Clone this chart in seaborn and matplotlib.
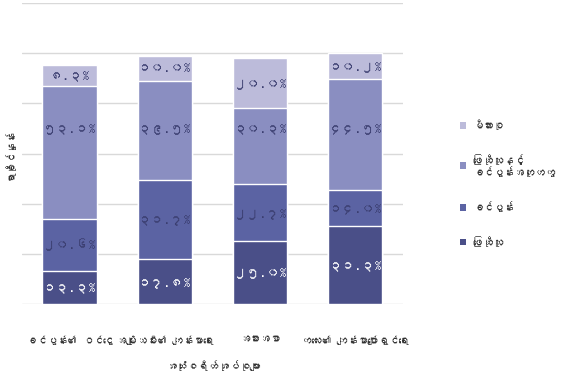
import numpy as np
import matplotlib
matplotlib.use("Agg")
import matplotlib.pyplot as plt
import seaborn as sns
from matplotlib import font_manager
from matplotlib.patches import Patch

# ---- data -------------------------------------------------------------
categories = [
    "ခင်ပွန်း၏ ဝင်ငွေ",
    "အမျိုးသမီး၏ ကျန်းမာရေး",
    "အစားအစာ",
    "ကလေး၏ ကျန်းမာပျော်ရွှင်ရေး",
]
series_names = ["ဖြေဆိုသူ", "ခင်ပွန်း", "ဖြေဆိုသူနှင့်\nခင်ပွန်းအတူတကွ", "မိသားစု"]
respondent = [13.3, 17.8, 25.0, 31.3]
husband = [20.6, 31.7, 22.7, 14.0]
together = [53.1, 39.5, 30.3, 44.5]
family = [8.3, 10.0, 20.0, 10.2]
y_title = "ရာခိုင်နှုန်း"
x_title = "အသုံးစရိတ်အုပ်စုများ"

colors = ["#4a4f88", "#5b63a3", "#8a8ec1", "#bcbbda"]
text_colors = ["#ffffff", "#3b3e70", "#3b3e70", "#3b3e70"]


def myanmar_family():
    """Return the name of an installed font that covers Myanmar script."""
    try:
        from fontTools.ttLib import TTFont
    except Exception:
        return None
    seen = set()
    for f in font_manager.fontManager.ttflist:
        if f.fname in seen:
            continue
        seen.add(f.fname)
        try:
            tt = TTFont(f.fname, fontNumber=0, lazy=True)
            cmap = tt.getBestCmap() or {}
            if 0x1000 in cmap and 0x1041 in cmap and 0x103A in cmap:
                return f.name
        except Exception:
            continue
    return None


sns.set_theme(style="white")
mm = myanmar_family()
plt.rcParams["font.family"] = ([mm] if mm else []) + ["DejaVu Sans"]

to_mm = str.maketrans("0123456789", "၀၁၂၃၄၅၆၇၈၉")

values = np.array([respondent, husband, together, family])
tops = np.cumsum(values, axis=0)

fig = plt.figure(figsize=(5.7, 3.92), dpi=100)
ax = fig.add_axes([0.0386, 0.2245, 0.668, 0.7675])

# stacked bars: draw cumulative totals from the top series down
for i in reversed(range(len(values))):
    sns.barplot(x=categories, y=tops[i], order=categories, color=colors[i],
                saturation=1, width=0.57, ax=ax, zorder=2)

# segment labels in Myanmar numerals
for i in range(len(values)):
    for j in range(len(categories)):
        bottom = tops[i - 1][j] if i > 0 else 0.0
        yc = bottom + values[i][j] / 2
        if i == 2:
            yc = max(yc, 70.0)
        txt = f"{values[i][j]:.1f}%".translate(to_mm)
        ax.text(j, yc, txt, ha="center", va="center", fontsize=9.5,
                color=text_colors[i], zorder=3)

ax.set_ylim(0, 120)
ax.set_yticks(np.arange(0, 121, 20))
ax.set_yticklabels([])
ax.grid(axis="y", color="#d9d9d9", linewidth=1.0, zorder=0)
ax.grid(axis="x", visible=False)
ax.set_axisbelow(True)
for s in ax.spines.values():
    s.set_visible(False)
ax.tick_params(axis="both", length=0)
ax.tick_params(axis="x", pad=22, labelsize=7.4, labelcolor="#333333")

ax.set_ylabel(y_title, fontsize=7.5, color="#333333", labelpad=2)
ax.set_xlabel(x_title, fontsize=7.7, color="#333333", labelpad=11)

handles = [Patch(facecolor=colors[i], edgecolor="none") for i in reversed(range(4))]
labels = [series_names[i] for i in reversed(range(4))]
fig.legend(handles, labels, loc="upper left", bbox_to_anchor=(0.79, 0.72),
           frameon=False, fontsize=7.5, labelspacing=2.3, handlelength=0.6,
           handleheight=0.6, handletextpad=0.6, labelcolor="#333333")

fig.savefig("out.png", dpi=100)
